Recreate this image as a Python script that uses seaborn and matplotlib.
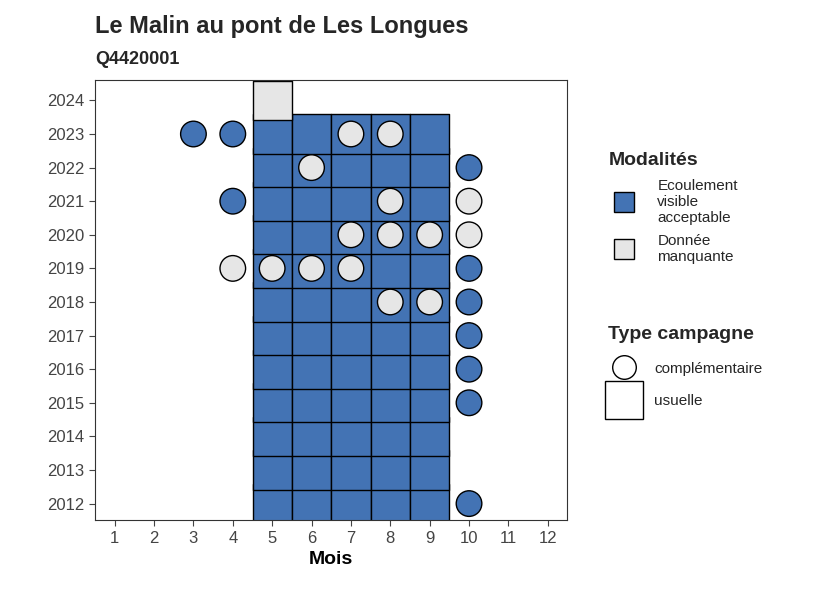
import matplotlib.pyplot as plt
import seaborn as sns
import pandas as pd
from matplotlib.lines import Line2D

# usual campaigns (squares): months 5-9 for 2012-2023, plus one missing in 2024
sq_year = [y for y in range(2012, 2024) for m in range(5, 10)] + [2024]
sq_month = [m for y in range(2012, 2024) for m in range(5, 10)] + [5]
sq_mod = ["Ecoulement visible acceptable"] * 60 + ["Donnée manquante"]

# complementary campaigns (circles)
ci_year = [2023, 2023, 2023, 2023, 2022, 2022, 2021, 2021, 2021,
           2020, 2020, 2020, 2020, 2019, 2019, 2019, 2019, 2019,
           2018, 2018, 2018, 2017, 2016, 2015, 2012]
ci_month = [3, 4, 7, 8, 6, 10, 4, 8, 10,
            7, 8, 9, 10, 4, 5, 6, 7, 10,
            8, 9, 10, 10, 10, 10, 10]
ci_mod = ["A", "A", "M", "M", "M", "A", "A", "M", "M",
          "M", "M", "M", "M", "M", "M", "M", "M", "A",
          "M", "M", "A", "A", "A", "A", "A"]
ci_mod = ["Ecoulement visible acceptable" if c == "A" else "Donnée manquante" for c in ci_mod]

palette = {"Ecoulement visible acceptable": "#4373b4", "Donnée manquante": "#e6e6e6"}

sq = pd.DataFrame({"Mois": sq_month, "Annee": sq_year, "mod": sq_mod})
ci = pd.DataFrame({"Mois": ci_month, "Annee": ci_year, "mod": ci_mod})

sns.set_style("white")
plt.rcParams['font.family'] = ['Liberation Sans', 'DejaVu Sans']
fig = plt.figure(figsize=(8.26, 5.9), dpi=100)
ax = fig.add_axes([0.115, 0.118, 0.572, 0.746])

sns.scatterplot(data=sq, x="Mois", y="Annee", hue="mod", palette=palette, marker="s",
                s=800, edgecolor="black", linewidth=1, legend=False, ax=ax, zorder=2)
sns.scatterplot(data=ci, x="Mois", y="Annee", hue="mod", palette=palette, marker="o",
                s=340, edgecolor="black", linewidth=1, legend=False, ax=ax, zorder=3)

ax.set_xlim(0.5, 12.5)
ax.set_ylim(2011.5, 2024.6)
ax.set_xticks(range(1, 13))
ax.set_yticks(range(2012, 2025))
ax.tick_params(axis="both", labelsize=12, colors="#444444", length=4, direction="out",
               left=True, bottom=True)
for s in ax.spines.values():
    s.set_color("#333333")
    s.set_linewidth(0.8)
ax.set_xlabel("Mois", fontsize=14, fontweight="bold", color="black")
ax.set_ylabel("")

fig.text(0.115, 0.955, "Le Malin au pont de Les Longues", fontsize=17, fontweight="bold", va="center")
fig.text(0.115, 0.9, "Q4420001", fontsize=13, fontweight="bold", va="center")

h1 = [Line2D([], [], marker="s", ls="", ms=15, mfc=palette[k], mec="black", label=l)
      for k, l in [("Ecoulement visible acceptable", "Ecoulement\nvisible\nacceptable"),
                   ("Donnée manquante", "Donnée\nmanquante")]]
leg1 = fig.legend(handles=h1, title="Modalités", loc="upper left", bbox_to_anchor=(0.72, 0.765),
                  frameon=False, fontsize=11, title_fontproperties={"weight": "bold", "size": 14},
                  labelspacing=0.6, handletextpad=1.2)
leg1._legend_box.align = "left"
h2 = [Line2D([], [], marker="o", ls="", ms=17, mfc="white", mec="black", label="complémentaire"),
      Line2D([], [], marker="s", ls="", ms=28, mfc="white", mec="black", label="usuelle")]
leg2 = fig.legend(handles=h2, title="Type campagne", loc="upper left", bbox_to_anchor=(0.72, 0.47),
                  frameon=False, fontsize=11, title_fontproperties={"weight": "bold", "size": 14},
                  labelspacing=1.2, handletextpad=1.0)
leg2._legend_box.align = "left"

fig.savefig("out.png", dpi=100)
